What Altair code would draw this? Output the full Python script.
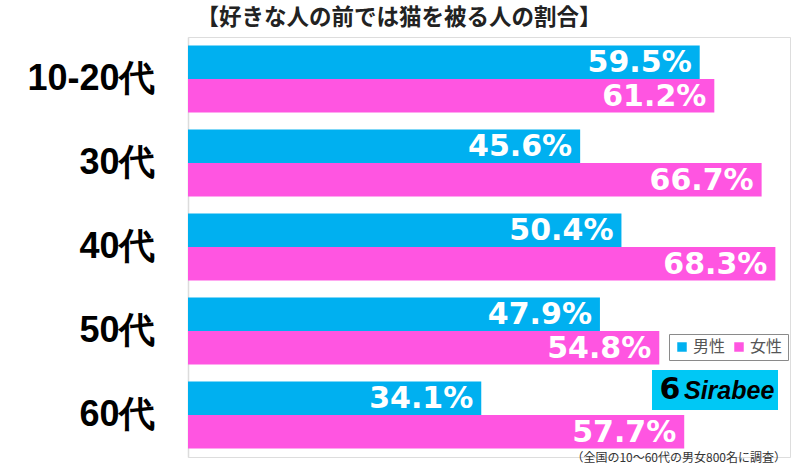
import altair as alt
import pandas as pd

ages = ["10-20代", "30代", "40代", "50代", "60代"]
male = [59.5, 45.6, 50.4, 47.9, 34.1]
female = [61.2, 66.7, 68.3, 54.8, 57.7]
series = ["男性", "女性"]
colors = ["#00B0F0", "#FF55E1"]
title_text = "【好きな人の前では猫を被る人の割合】"
note_text = "（全国の10～60代の男女800名に調査）"

rows = []
for a, m, f in zip(ages, male, female):
    rows.append({"age": a, "sex": "男性", "v": m, "lab": f"{m:.1f}%"})
    rows.append({"age": a, "sex": "女性", "v": f, "lab": f"{f:.1f}%"})
df = pd.DataFrame(rows)

y_enc = alt.Y("age:N", sort=ages,
              scale=alt.Scale(paddingInner=0.2, paddingOuter=0.1),
              axis=alt.Axis(title=None, ticks=False, grid=False, domainColor="#dcdcdc",
                            domainWidth=1.5, labelFont="Liberation Sans", labelFontWeight="bold",
                            labelFontSize=36, labelColor="#000", labelPadding=33))
x_enc = alt.X("v:Q", scale=alt.Scale(domain=[0, 70], nice=False), axis=None)
yo = alt.YOffset("sex:N", sort=series)

base = alt.Chart(df)
bars = base.mark_bar(cornerRadius=0).encode(
    y=y_enc, x=x_enc, yOffset=yo,
    color=alt.Color("sex:N", sort=series, scale=alt.Scale(domain=series, range=colors),
                    legend=alt.Legend(title=None, orient="none", legendX=481, legendY=297,
                                      direction="horizontal", symbolType="square",
                                      symbolSize=90, symbolStrokeWidth=0,
                                      labelFont="Noto Sans CJK JP", labelFontSize=16,
                                      labelColor="#555", columnPadding=5, labelOffset=3,
                                      strokeColor="#8a8a8a", fillColor="white", padding=5)),
)
labels = base.mark_text(align="right", baseline="middle", dx=-8, dy=1,
                        font="DejaVu Sans", fontWeight="bold", fontSize=30,
                        color="white").encode(
    y=alt.Y("age:N", sort=ages), x="v:Q", yOffset=yo, text="lab:N")

title = alt.Chart(pd.DataFrame({"t": [title_text]})).mark_text(
    align="center", baseline="middle", font="Noto Sans CJK JP", fontWeight="bold",
    fontSize=22.5, color="#222").encode(text="t:N", x=alt.value(211), y=alt.value(-19))

note = alt.Chart(pd.DataFrame({"t": [note_text]})).mark_text(
    align="right", baseline="middle", font="Noto Sans CJK JP", fontSize=12,
    color="#333").encode(text="t:N", x=alt.value(598), y=alt.value(421))

logo_box = alt.Chart(pd.DataFrame({"t": ["Sirabee"]})).mark_rect(color="#00C8F5").encode(
    x=alt.value(464), x2=alt.value(590), y=alt.value(333), y2=alt.value(373))
logo_icon = alt.Chart(pd.DataFrame({"t": ["6"]})).mark_text(
    align="center", baseline="middle", font="DejaVu Sans", fontWeight="bold",
    fontSize=30, color="#000").encode(text="t:N", x=alt.value(482), y=alt.value(353))
logo_text = alt.Chart(pd.DataFrame({"t": ["Sirabee"]})).mark_text(
    align="left", baseline="middle", font="Liberation Sans", fontWeight="bold",
    fontStyle="italic", fontSize=25, color="#000").encode(
    text="t:N", x=alt.value(496), y=alt.value(354))

chart = alt.layer(bars, labels, title, note, logo_box, logo_icon, logo_text).properties(
    width=602, height=420,
    padding={"left": 188, "top": 37, "right": 10, "bottom": 9},
    autosize=alt.AutoSizeParams(type="none"),
).configure_view(stroke=None).configure(background="white")

chart.save("out.html", embed_options={"renderer": "svg", "actions": False})
